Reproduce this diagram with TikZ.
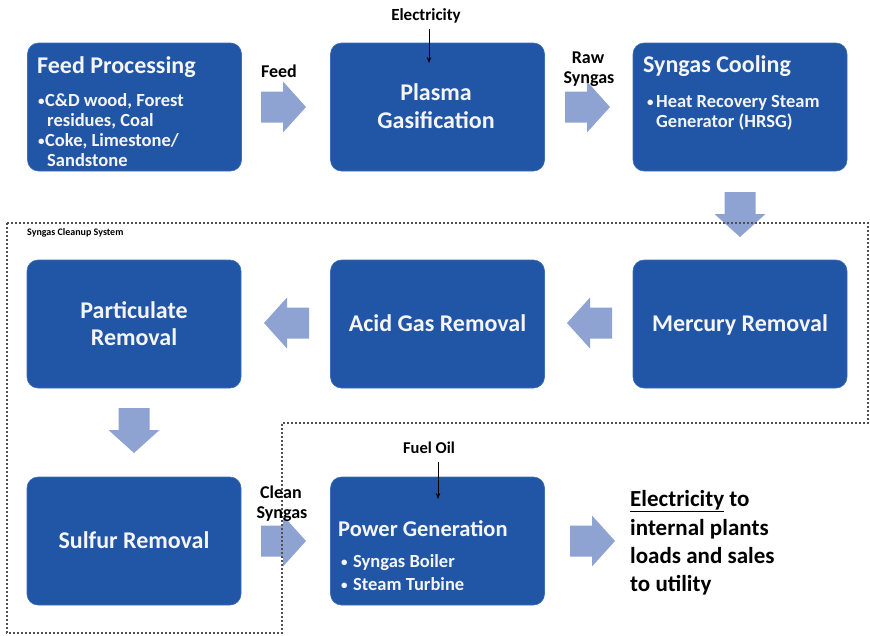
\documentclass[tikz,border=0pt]{standalone}
\usepackage{fontspec}
\setmainfont{Carlito}
\usetikzlibrary{arrows.meta}
\definecolor{boxblue}{RGB}{33,86,166}
\definecolor{boxedge}{RGB}{60,110,185}
\definecolor{arrowcol}{RGB}{142,163,210}
\definecolor{dotcol}{RGB}{80,80,80}
\definecolor{boxtext}{RGB}{245,245,248}
\newcommand\bulmark[1]{\makebox[#1][l]{\raisebox{0.05em}{\fontsize{13}{13}\selectfont\textbullet}}}
\begin{document}
\begin{tikzpicture}[x=1pt,y=-1pt,
  box/.style={fill=boxblue, draw=boxedge, line width=0.6pt, rounded corners=11pt,
              inner sep=0pt, minimum width=214pt, minimum height=128pt},
  title/.style={text=boxtext, font=\bfseries\fontsize{24}{28}\selectfont, inner sep=0pt},
  bul/.style={text=boxtext, font=\bfseries\fontsize{18.5}{20}\selectfont, inner sep=0pt, anchor=base west},
  lab/.style={text=black, font=\bfseries\fontsize{18}{20}\selectfont, inner sep=0pt, anchor=base},
  outtext/.style={text=black, font=\bfseries\fontsize{23}{26}\selectfont, inner sep=0pt, anchor=base west},
  thinarrow/.style={draw=black, line width=0.8pt, -{Stealth[length=6pt,width=4.5pt]}},
  dotline/.style={draw=dotcol, line width=2pt, dash pattern=on 2pt off 2pt},
  blockarrow/.pic={\fill[arrowcol] (0,-15.5) -- (22,-15.5) -- (22,-25.5) -- (45,0)
                    -- (22,25.5) -- (22,15.5) -- (0,15.5) -- cycle;}
]
\useasboundingbox (0,0) rectangle (870,635);

% boxes
\node[box] (feed)  at (134.5,107) {};
\node[box] (plasma) at (437.5,107) {};
\node[box] (cool)  at (740,107) {};
\node[box] (part)  at (134,324) {};
\node[box] (acid)  at (437.5,324) {};
\node[box] (merc)  at (740,324) {};
\node[box] (sulf)  at (134,541) {};
\node[box] (power) at (437.5,541) {};

% block arrows
\pic (a1) at (261,107) {blockarrow};
\pic (a2) at (565,107) {blockarrow};
\pic[rotate=-90] (a3) at (740,192) {blockarrow};
\pic[rotate=180] (a4) at (612,323) {blockarrow};
\pic[rotate=180] (a5) at (309,323) {blockarrow};
\pic[rotate=-90] (a6) at (134,408) {blockarrow};
\pic (a7) at (261,541) {blockarrow};
\pic (a8) at (570,541) {blockarrow};

% dotted boundary
\draw[dotline] (7,223) -- (868,223) -- (868,423) -- (282,423) -- (282,633) -- (7,633) -- cycle;

% Feed Processing
\node[title, anchor=base west] (fpt) at (37,73) {Feed Processing};
\node[bul] (fp1) at (38,106) {\bulmark{7pt}C\&D wood, Forest};
\node[bul] (fp2) at (47,126) {residues, Coal};
\node[bul] (fp3) at (38,146) {\bulmark{7pt}Coke, Limestone/};
\node[bul] (fp4) at (47,166) {Sandstone};

% Plasma Gasification
\node[title, anchor=base] (pg1) at (436,100) {Plasma};
\node[title, anchor=base] (pg2) at (436,128) {Gasification};

% Syngas Cooling
\node[title, anchor=base west] (sct) at (643,72) {Syngas Cooling};
\node[bul] (sc1) at (647,107) {\bulmark{9pt}Heat Recovery Steam};
\node[bul] (sc2) at (656,127) {Generator (HRSG)};

% Row 2
\node[title, anchor=base] (pr1) at (134,318) {Particulate};
\node[title, anchor=base] (pr2) at (134,345) {Removal};
\node[title, anchor=base] (agr) at (437.5,331) {Acid Gas Removal};
\node[title, anchor=base] (mr)  at (740,331) {Mercury Removal};

% Row 3
\node[title, anchor=base] (sr) at (134,548) {Sulfur Removal};
\node[title, anchor=base west, font=\bfseries\fontsize{22.5}{26}\selectfont] (pwt) at (338,536) {Power Generation};
\node[bul] (pw1) at (341,567) {\bulmark{12pt}Syngas Boiler};
\node[bul] (pw2) at (341,590) {\bulmark{12pt}Steam Turbine};

% output text
\node[outtext] (o1) at (630,506) {\underline{Electricity} to};
\node[outtext] (o2) at (630,535) {internal plants};
\node[outtext] (o3) at (630,563) {loads and sales};
\node[outtext] (o4) at (630,591) {to utility};

% labels
\node[lab, font=\bfseries\fontsize{17}{19}\selectfont] (elec) at (426,20) {Electricity};
\node[lab] (feedlab) at (279,77) {Feed};
\node[lab] (raw1) at (588,63) {Raw};
\node[lab] (raw2) at (589,83) {Syngas};
\node[lab, anchor=base west, font=\bfseries\fontsize{10}{12}\selectfont] (scs) at (27,235) {Syngas Cleanup System};
\node[lab, font=\bfseries\fontsize{16.5}{18}\selectfont] (fuel) at (429,453) {Fuel Oil};
\node[lab] (cl1) at (281,498) {Clean};
\node[lab] (cl2) at (282,518) {Syngas};

% thin arrows
\coordinate (etop) at (429,29);
\coordinate (etip) at (429,63);
\draw[thinarrow] (etop) -- (etip);
\coordinate (ftop) at (438,462);
\coordinate (ftip) at (438,499);
\draw[thinarrow] (ftop) -- (ftip);
\end{tikzpicture}
\end{document}
